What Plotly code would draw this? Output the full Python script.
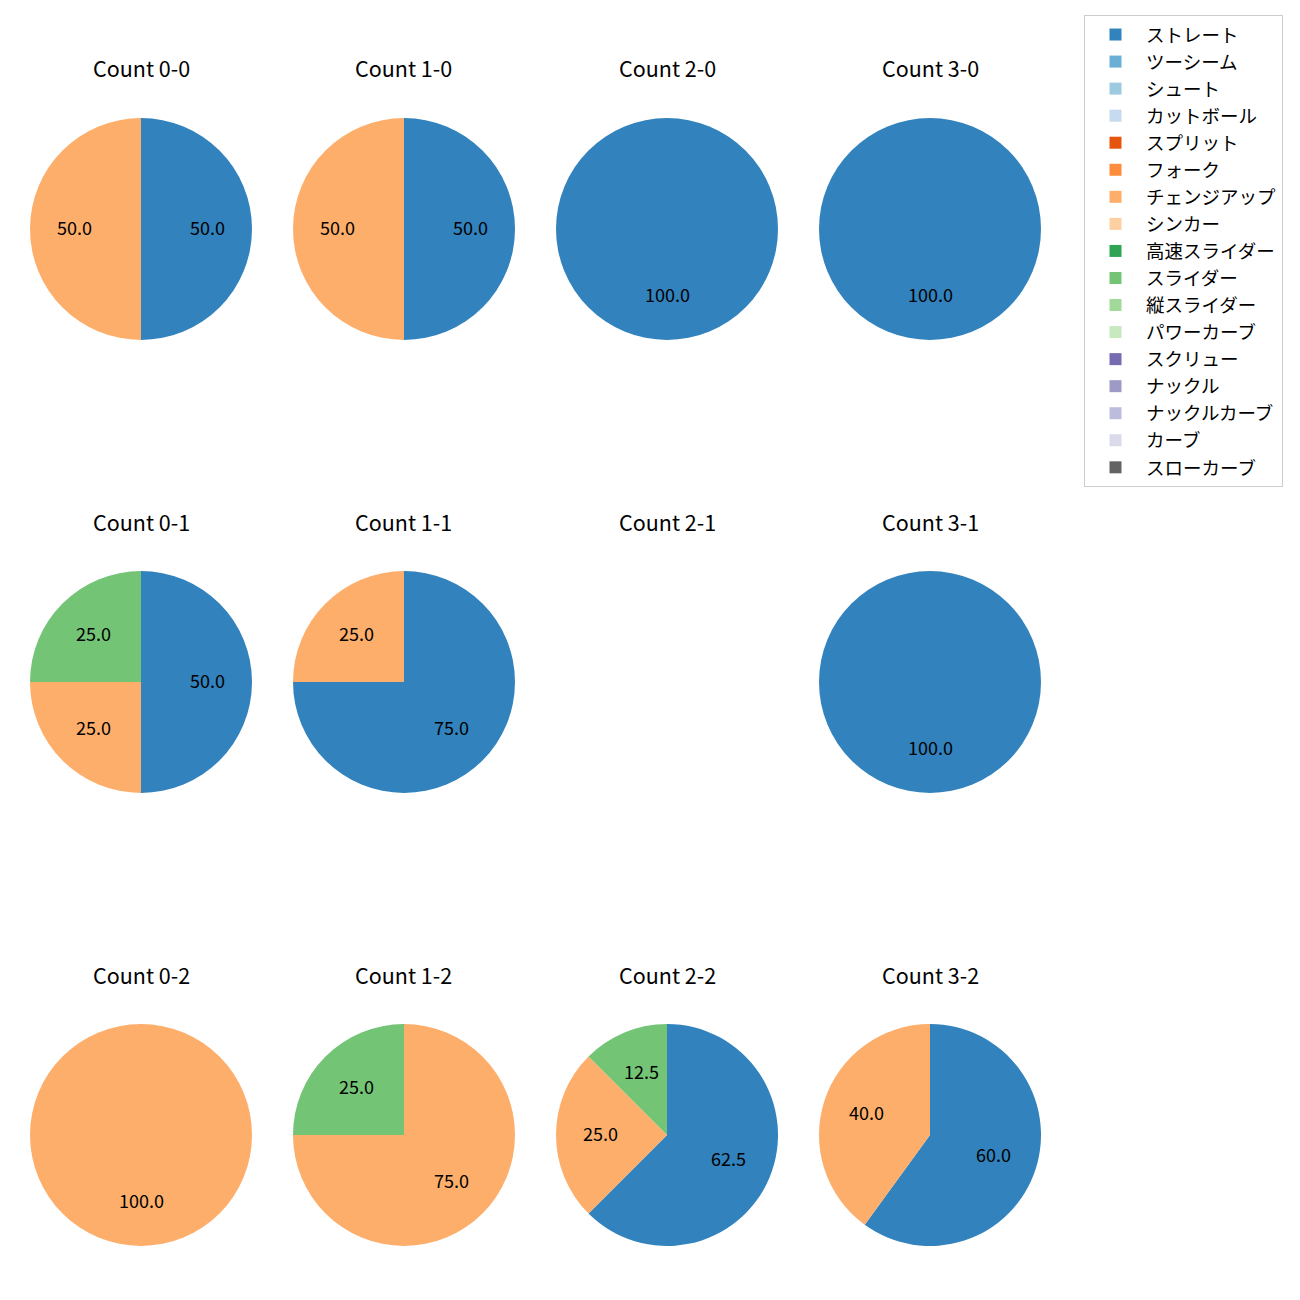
import math
import plotly.graph_objects as go

pitch_types = ["ストレート", "ツーシーム", "シュート", "カットボール", "スプリット", "フォーク",
               "チェンジアップ", "シンカー", "高速スライダー", "スライダー", "縦スライダー",
               "パワーカーブ", "スクリュー", "ナックル", "ナックルカーブ", "カーブ", "スローカーブ"]
pitch_colors = ["#3182bd", "#6baed6", "#9ecae1", "#c6dbef", "#e6550d", "#fd8d3c",
                "#fdae6b", "#fdd0a2", "#31a354", "#74c476", "#a1d99b", "#c7e9c0",
                "#756bb1", "#9e9ac8", "#bcbddc", "#dadaeb", "#636363"]

balls = [0, 1, 2, 3]
strikes = [0, 1, 2]

# percentages per count
count_0_0 = {"ストレート": 50.0, "チェンジアップ": 50.0}
count_1_0 = {"ストレート": 50.0, "チェンジアップ": 50.0}
count_2_0 = {"ストレート": 100.0}
count_3_0 = {"ストレート": 100.0}
count_0_1 = {"ストレート": 50.0, "チェンジアップ": 25.0, "スライダー": 25.0}
count_1_1 = {"ストレート": 75.0, "チェンジアップ": 25.0}
count_2_1 = {}
count_3_1 = {"ストレート": 100.0}
count_0_2 = {"チェンジアップ": 100.0}
count_1_2 = {"チェンジアップ": 75.0, "スライダー": 25.0}
count_2_2 = {"ストレート": 62.5, "チェンジアップ": 25.0, "スライダー": 12.5}
count_3_2 = {"ストレート": 60.0, "チェンジアップ": 40.0}

data = {
    (0, 0): count_0_0, (1, 0): count_1_0, (2, 0): count_2_0, (3, 0): count_3_0,
    (0, 1): count_0_1, (1, 1): count_1_1, (2, 1): count_2_1, (3, 1): count_3_1,
    (0, 2): count_0_2, (1, 2): count_1_2, (2, 2): count_2_2, (3, 2): count_3_2,
}

W = 1300
col_cx = [141, 404, 667, 930]
row_cy = [229, 682, 1135]
R = 111
title_dy = 160

FONT = "Noto Sans CJK JP"
fig = go.Figure()
annotations = []
first = True
for s in strikes:
    for b in balls:
        cx, cy = col_cx[b], row_cy[s]
        annotations.append(dict(x=cx / W, y=1 - (cy - title_dy) / W, xref="paper", yref="paper",
                                text=f"Count {b}-{s}", showarrow=False, yshift=1,
                                font=dict(size=21.5, color="black", family=FONT),
                                xanchor="center", yanchor="middle"))
        d = data[(b, s)]
        if not d:
            continue
        vals = [d.get(p, 0.0) for p in pitch_types]
        fig.add_trace(go.Pie(
            labels=pitch_types, values=vals, sort=False, direction="clockwise", rotation=0,
            marker=dict(colors=pitch_colors, line=dict(width=0)),
            textinfo="none", hoverinfo="skip", showlegend=first,
            domain=dict(x=[(cx - R) / W, (cx + R) / W], y=[1 - (cy + R) / W, 1 - (cy - R) / W]),
        ))
        first = False
        total = sum(vals)
        cum = 0.0
        for v in vals:
            if v <= 0:
                continue
            mid = math.radians(90 - 360 * (cum + v / 2) / total)
            cum += v
            annotations.append(dict(x=(cx + 0.6 * R * math.cos(mid)) / W,
                                    y=1 - (cy - 0.6 * R * math.sin(mid)) / W,
                                    xref="paper", yref="paper", text=f"{100 * v / total:.1f}",
                                    showarrow=False, yshift=2,
                                    font=dict(size=18, color="black", family=FONT),
                                    xanchor="center", yanchor="middle"))

fig.update_layout(
    width=1300, height=1300, margin=dict(l=0, r=0, t=0, b=0),
    paper_bgcolor="white", plot_bgcolor="white",
    annotations=annotations,
    legend=dict(x=1283 / W, y=1 - 15 / W, xanchor="right", yanchor="top",
                bgcolor="white", bordercolor="#cccccc", borderwidth=1, itemwidth=51,
                font=dict(size=18.5, family=FONT, color="black"), traceorder="normal"),
)

fig.write_html("out.html", post_script="document.body.style.margin='0';",
               config={"displayModeBar": False})
